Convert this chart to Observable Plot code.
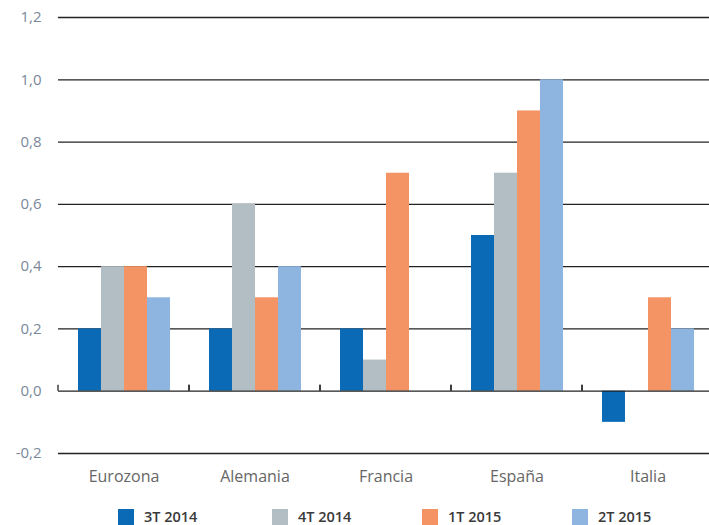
<!DOCTYPE html>
<html>
<head>
<meta charset="utf-8">
<script src="https://cdn.jsdelivr.net/npm/d3@7"></script>
<script src="https://cdn.jsdelivr.net/npm/@observablehq/plot@0.6"></script>
<style>
  html, body { margin: 0; padding: 0; background: #fff; }
  #chart { width: 709px; height: 525px; overflow: hidden; font-family: "Open Sans", sans-serif; }
  #legend { position: relative; height: 30px; }
  .item { position: absolute; top: 12px; display: flex; align-items: center; font-size: 14.5px; color: #3a3a3a; font-weight: 600; }
  .sw { width: 16px; height: 16px; margin-right: 10px; }
</style>
</head>
<body>
<div id="chart"></div>
<script>
const countries = ["Eurozona", "Alemania", "Francia", "España", "Italia"];
const series = ["3T 2014", "4T 2014", "1T 2015", "2T 2015"];
const colors = ["#0a6ab6", "#b2bec3", "#f49464", "#8eb4e0"];
const v3T2014 = [0.2, 0.2, 0.2, 0.5, -0.1];
const v4T2014 = [0.4, 0.6, 0.1, 0.7, null];
const v1T2015 = [0.4, 0.3, 0.7, 0.9, 0.3];
const v2T2015 = [0.3, 0.4, null, 1.0, 0.2];
const yTicks = [-0.2, 0, 0.2, 0.4, 0.6, 0.8, 1.0, 1.2];
const legendLeft = [118, 272, 422, 572];

const valuesBySeries = [v3T2014, v4T2014, v1T2015, v2T2015];
const data = [];
countries.forEach((c, i) => {
  series.forEach((s, j) => {
    const v = valuesBySeries[j][i];
    if (v != null) data.push({country: c, series: s, value: v});
  });
});

const fmt = d => d.toFixed(1).replace(".", ",");

const boundaryTicks = (index, scales) => {
  const g = d3.create("svg:g");
  const [x0, x1] = scales.x.range();
  const y0 = scales.y(0);
  for (const x of [x0, x1]) {
    g.append("line")
      .attr("x1", x).attr("x2", x)
      .attr("y1", y0).attr("y2", y0 - 6)
      .attr("stroke", "#222").attr("stroke-width", 1.3);
  }
  return g.node();
};

const plot = Plot.plot({
  width: 709,
  height: 495,
  marginTop: 17,
  marginBottom: 42,
  marginLeft: 58,
  marginRight: -4,
  style: {fontFamily: "Open Sans, sans-serif", background: "#fff", overflow: "visible"},
  fx: {domain: countries, padding: 0, label: null},
  x: {domain: series, paddingInner: 0, paddingOuter: 0.74, axis: null},
  y: {domain: [-0.2, 1.2], label: null},
  color: {domain: series, range: colors},
  marks: [
    Plot.ruleY(yTicks.filter(d => d !== 0), {stroke: "#222", strokeWidth: 1.3}),
    Plot.barY(data, {fx: "country", x: "series", y: "value", fill: "series"}),
    Plot.ruleY([0], {stroke: "#222", strokeWidth: 1.3}),
    boundaryTicks,
    Plot.axisY(yTicks, {tickSize: 0, tickPadding: 17, tickFormat: fmt, fontSize: 15, color: "#7a889a", label: null}),
    Plot.axisFx({anchor: "bottom", tickSize: 0, tickPadding: 17, fontSize: 16, color: "#666", label: null})
  ]
});

const chart = document.getElementById("chart");
chart.appendChild(plot);
const legend = document.createElement("div");
legend.id = "legend";
series.forEach((s, i) => {
  const item = document.createElement("div");
  item.className = "item";
  item.style.left = legendLeft[i] + "px";
  const sw = document.createElement("span");
  sw.className = "sw";
  sw.style.background = colors[i];
  const t = document.createElement("span");
  t.textContent = s;
  item.appendChild(sw);
  item.appendChild(t);
  legend.appendChild(item);
});
chart.appendChild(legend);
</script>
</body>
</html>
